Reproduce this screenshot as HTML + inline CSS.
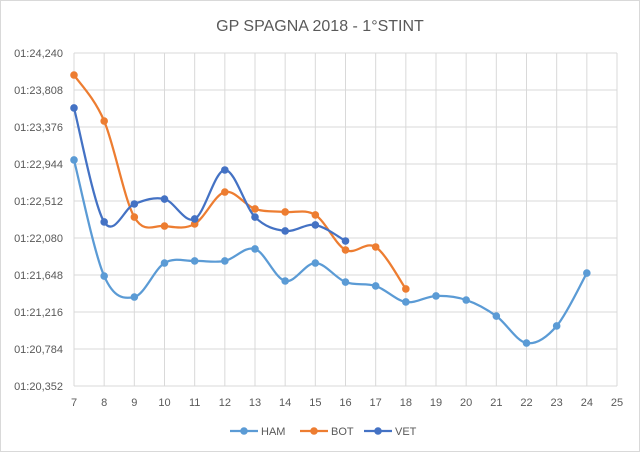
<!DOCTYPE html>
<html><head><meta charset="utf-8"><style>
body{margin:0;background:#fff;font-family:"Liberation Sans",sans-serif}
svg text{font-family:"Liberation Sans",sans-serif}
</style></head><body>
<svg id="chart" width="640" height="452">
<rect x="0.5" y="0.5" width="639" height="451" fill="#fff" stroke="#d9d9d9"/>
<text x="320" y="31" text-anchor="middle" font-size="16" fill="#595959">GP SPAGNA 2018 - 1°STINT</text>
<g id="grid"></g><g id="series"></g><g id="legend"></g>
</svg>
<script>
const xTicks=[7,8,9,10,11,12,13,14,15,16,17,18,19,20,21,22,23,24,25];
const yTicks=[20.352,20.784,21.216,21.648,22.080,22.512,22.944,23.376,23.808,24.240];
const yLabels=["01:20,352","01:20,784","01:21,216","01:21,648","01:22,080","01:22,512","01:22,944","01:23,376","01:23,808","01:24,240"];
const hamLaps=[7,8,9,10,11,12,13,14,15,16,17,18,19,20,21,22,23,24];
const hamTimes=[22.991,21.636,21.391,21.788,21.812,21.812,21.952,21.578,21.788,21.566,21.520,21.333,21.403,21.356,21.169,20.854,21.053,21.671];
const botLaps=[7,8,9,10,11,12,13,14,15,16,17,18];
const botTimes=[23.983,23.446,22.325,22.220,22.244,22.617,22.419,22.384,22.349,21.940,21.975,21.485];
const vetLaps=[7,8,9,10,11,12,13,14,15,16];
const vetTimes=[23.598,22.267,22.477,22.535,22.302,22.874,22.325,22.162,22.232,22.045];
const NS="http://www.w3.org/2000/svg";
const X0=74,X1=617,Y0=386,Y1=53;
const xs=v=>X0+(v-7)/(25-7)*(X1-X0);
const ys=v=>Y0-(v-20.352)/(24.240-20.352)*(Y0-Y1);
function mk(t,a,p){const e=document.createElementNS(NS,t);for(const k in a)e.setAttribute(k,a[k]);p.appendChild(e);return e;}
const grid=document.getElementById('grid');
yTicks.forEach((v,i)=>{
 const l=mk('line',{x1:X0,x2:X1,y1:ys(v),y2:ys(v),stroke:'#d9d9d9'},grid);
 
 
 const t=mk('text',{x:63,y:ys(v)+4,'text-anchor':'end','font-size':11,fill:'#595959'},grid);
 t.textContent=yLabels[i];
 
 
});
xTicks.forEach(v=>{
 const l=mk('line',{x1:xs(v),x2:xs(v),y1:Y1,y2:Y0,stroke:'#d9d9d9'},grid);
 
 
 const t=mk('text',{x:xs(v),y:406,'text-anchor':'middle','font-size':11,fill:'#595959'},grid);
 t.textContent=v;
 
 
});
function path(px,py){let d=`M${px[0]},${py[0]}`;for(let i=0;i<px.length-1;i++){
 const p0=i?i-1:i,p3=i+2<px.length?i+2:i+1;
 const c1x=px[i]+(px[i+1]-px[p0])/6,c1y=py[i]+(py[i+1]-py[p0])/6;
 const c2x=px[i+1]-(px[p3]-px[i])/6,c2y=py[i+1]-(py[p3]-py[i])/6;
 d+=` C${c1x},${c1y} ${c2x},${c2y} ${px[i+1]},${py[i+1]}`;}return d;}
const sg=document.getElementById('series');
function draw(name,laps,times,col){
 const g=mk('g',{},sg);
 
 
 const px=laps.map(xs),py=times.map(ys);
 const p=mk('path',{d:path(px,py),fill:'none',stroke:col,'stroke-width':2.25},g);
 
 
 px.forEach((x,i)=>{const c=mk('circle',{cx:x,cy:py[i],r:3.8,fill:col},g);
  
  });
}
draw('HAM',hamLaps,hamTimes,'#5B9BD5');
draw('BOT',botLaps,botTimes,'#ED7D31');
draw('VET',vetLaps,vetTimes,'#4472C4');
const lg=document.getElementById('legend');
[['HAM','#5B9BD5',230],['BOT','#ED7D31',300],['VET','#4472C4',364]].forEach(([n,c,x])=>{
 const g=mk('g',{},lg);
 
 
 mk('line',{x1:x,x2:x+28,y1:431,y2:431,stroke:c,'stroke-width':2.25},g);
 mk('circle',{cx:x+14,cy:431,r:3.8,fill:c},g);
 const t=mk('text',{x:x+31,y:435,'font-size':11,fill:'#595959'},g);t.textContent=n;
});
</script>
</body></html>
